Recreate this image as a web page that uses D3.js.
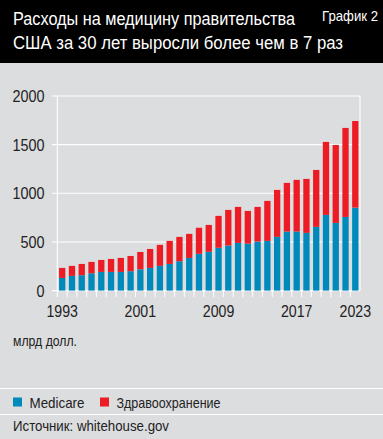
<!DOCTYPE html>
<html><head><meta charset="utf-8">
<script src="https://cdn.jsdelivr.net/npm/d3@7/dist/d3.min.js"></script>
<style>
html,body{margin:0;padding:0;background:#dcdddf;}
svg{display:block;}
text{font-family:"Liberation Sans Narrow","Liberation Sans",Arial,sans-serif;}
</style></head><body>
<svg id="c" width="383" height="439"></svg>
<script>
const years = d3.range(1993, 2024);
const medicare = [130,151,158,178,192,192,192,199,219,233,254,274,302,336,378,399,440,463,490,483,504,511,552,607,607,593,655,778,696,757,853];
const health   = [103,103,116,117,123,133,144,157,178,195,216,237,250,247,268,276,328,366,370,336,356,411,483,500,531,555,585,750,801,915,890];
const yTicks = [0,500,1000,1500,2000];
const xLabels = [1993,2001,2009,2017,2023];
const seriesNames = ["Medicare","Здравоохранение"];
const colors = ["#0089bb","#ed1c24"];

const svg = d3.select("#c");
function cond(sel, w){ sel.attr("textLength", w).attr("lengthAdjust","spacingAndGlyphs"); return sel; }

svg.append("rect").attr("width",383).attr("height",439).attr("fill","#dcdddf");
svg.append("rect").attr("width",383).attr("height",63).attr("fill","#000");
cond(svg.append("text").attr("x",13).attr("y",24.5).attr("fill","#fff").attr("font-size",17.5).text("Расходы на медицину правительства"),282);
cond(svg.append("text").attr("x",13).attr("y",48.5).attr("fill","#fff").attr("font-size",17.5).text("США за 30 лет выросли более чем в 7 раз"),330);
cond(svg.append("text").attr("x",322).attr("y",20.5).attr("fill","#fff").attr("font-size",14.5).text("График 2"),56);

const x = d3.scaleBand().domain(years).range([57.3,360.2]).paddingInner(0.355).paddingOuter(0.18);
const y = d3.scaleLinear().domain([0,2000]).range([290.6,96]);

const g = svg.append("g");
g.selectAll("line.grid").data(yTicks).join("line")
  .attr("x1",52).attr("x2",360).attr("y1",d=>y(d)).attr("y2",d=>y(d))
  .attr("stroke","#fff").attr("stroke-width",1.1);
g.append("line").attr("x1",57.3).attr("x2",57.3).attr("y1",y(2000)).attr("y2",297).attr("stroke","#fff").attr("stroke-width",1.1);
g.append("line").attr("x1",360).attr("x2",360).attr("y1",y(2000)).attr("y2",y(0)).attr("stroke","#fff").attr("stroke-width",1.1);
const bounds = years.slice(1).map(yr => x(yr) - x.step()*x.paddingInner()/2);
g.selectAll("line.xt").data(bounds).join("line")
  .attr("x1",d=>d).attr("x2",d=>d).attr("y1",y(0)).attr("y2",297)
  .attr("stroke","#fff").attr("stroke-width",1);

svg.selectAll("text.yl").data(yTicks).join("text")
  .attr("x",44.5).attr("y",d=>y(d)+6).attr("text-anchor","end")
  .attr("font-size",16.5).attr("fill","#222").text(d=>d)
  .attr("textLength",d=>String(d).length*8).attr("lengthAdjust","spacingAndGlyphs");
svg.selectAll("text.xl").data(xLabels).join("text")
  .attr("x",d=>x(d)+x.bandwidth()/2).attr("y",316.5).attr("text-anchor","middle")
  .attr("font-size",16.5).attr("fill","#222").text(d=>d)
  .attr("textLength",31.5).attr("lengthAdjust","spacingAndGlyphs");

const rows = years.map((yr,i)=>({year:yr, m:medicare[i], h:health[i]}));
const stack = d3.stack().keys(["m","h"])(rows);
svg.append("g").selectAll("g").data(stack).join("g").attr("fill",(d,i)=>colors[i])
  .selectAll("rect").data(d=>d).join("rect")
  .attr("x",d=>x(d.data.year)).attr("width",x.bandwidth())
  .attr("y",d=>y(d[1])).attr("height",d=>y(d[0])-y(d[1]));

cond(svg.append("text").attr("x",13).attr("y",346).attr("font-size",14).attr("fill","#222").text("млрд долл."),64);

svg.append("line").attr("x1",0).attr("x2",383).attr("y1",388.5).attr("y2",388.5).attr("stroke","#fff").attr("stroke-width",1);
svg.append("line").attr("x1",0).attr("x2",383).attr("y1",414.5).attr("y2",414.5).attr("stroke","#fff").attr("stroke-width",1);

const legX = [13,100];
const legW = [55,104];
const leg = svg.selectAll("g.leg").data(seriesNames).join("g").attr("transform",(d,i)=>`translate(${legX[i]},0)`);
leg.append("rect").attr("x",0).attr("y",397.5).attr("width",9).attr("height",9).attr("fill",(d,i)=>colors[i]);
leg.append("text").attr("x",16.5).attr("y",407.5).attr("font-size",14.5).attr("fill","#222").text(d=>d)
  .attr("textLength",(d,i)=>legW[i]).attr("lengthAdjust","spacingAndGlyphs");

cond(svg.append("text").attr("x",13).attr("y",431).attr("font-size",14.5).attr("fill","#222").text("Источник: whitehouse.gov"),156);
</script>
</body></html>
